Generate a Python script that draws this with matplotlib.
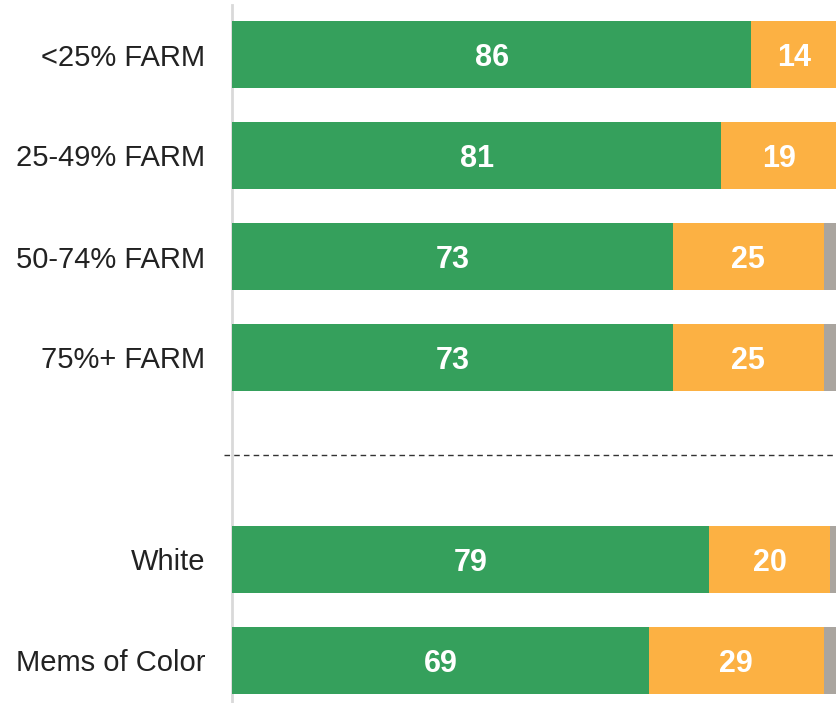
import matplotlib
matplotlib.use("Agg")
import matplotlib.pyplot as plt

plt.rcParams['font.family'] = ['Liberation Sans', 'DejaVu Sans']

categories = ["<25% FARM", "25-49% FARM", "50-74% FARM", "75%+ FARM", "White", "Mems of Color"]
positions = [0, 1, 2, 3, 5, 6]
green_vals = [86, 81, 73, 73, 79, 69]
orange_vals = [14, 19, 25, 25, 20, 29]
gray_vals = [0, 0, 2, 2, 1, 2]

GREEN = "#35a05c"
ORANGE = "#fcb143"
GRAY = "#aaa59f"

fig = plt.figure(figsize=(8.36, 7.03), dpi=100)
ax = fig.add_axes([232/836, 0, 1 - 232/836, 1])

h = 0.663
lefts = [0]*len(categories)
for vals, col in [(green_vals, GREEN), (orange_vals, ORANGE), (gray_vals, GRAY)]:
    ax.barh(positions, vals, left=lefts, height=h, color=col, edgecolor='none')
    for p, l, v in zip(positions, lefts, vals):
        if v >= 5:
            ax.text(l + v/2, p, str(v), ha='center', va='center_baseline', color='white',
                    fontsize=22, fontweight='bold')
    lefts = [a + b for a, b in zip(lefts, vals)]

ax.set_xlim(0, 100)
ax.set_ylim((703 - 54.5)/101, -54.5/101)
ax.set_yticks(positions)
ax.set_yticklabels(categories, fontsize=21, color='#222222')
ax.tick_params(axis='y', length=0, pad=19)
ax.set_xticks([])
for s in ax.spines.values():
    s.set_visible(False)

# left vertical line
ax.plot([0, 0], [-50/101, (703-54.5)/101], color='#d9d9d9', lw=2, clip_on=False, zorder=0)
# dashed separator
ax.plot([-8/6.04, 100], [3.965, 3.965], color='#333333', lw=1, ls=(0, (4, 3)), clip_on=False)

fig.savefig("out.png", dpi=100)
